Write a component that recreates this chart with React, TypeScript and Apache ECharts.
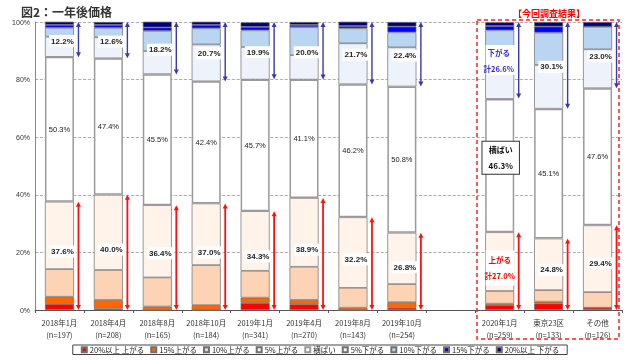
import React, { useEffect, useRef } from "react";
import * as echarts from "echarts";

const categories = ["2018年1月", "2018年4月", "2018年8月", "2018年10月", "2019年1月", "2019年4月", "2019年8月", "2019年10月", "", "2020年1月", "東京23区", "その他"];
const sampleSizes = ["197", "208", "165", "184", "341", "270", "143", "254", "", "259", "133", "126"];

const up20 = [2.1, 0.5, 0, 0, 2.5, 2.0, 0, 0.8, null, 1.7, 2.3, 0.8];
const up15 = [2.5, 3.0, 1.2, 1.7, 1.8, 1.5, 0.8, 1.9, null, 0.5, 0.6, 0];
const up10 = [9.6, 10.4, 10.1, 13.9, 9.3, 11.5, 6.9, 6.3, null, 4.4, 4.0, 5.4];
const up5 = [23.4, 26.1, 25.1, 21.4, 20.7, 23.9, 24.5, 17.8, null, 20.4, 17.9, 23.2];
const flat = [50.3, 47.4, 45.5, 42.4, 45.7, 41.1, 46.2, 50.8, null, 46.3, 45.1, 47.6];
const down5 = [7.0, 7.3, 8.0, 12.8, 11.3, 8.5, 14.2, 13.6, null, 18.3, 15.2, 13.5];
const down10 = [3.1, 3.3, 7.0, 5.6, 5.8, 9.7, 5.2, 5.2, null, 5.5, 11.2, 7.9];
const down15 = [1.0, 1.0, 1.2, 1.2, 1.2, 0.8, 0.8, 2.0, null, 1.5, 2.1, 0];
const down20 = [1.1, 1.0, 2.0, 1.1, 1.6, 1.0, 1.5, 1.6, null, 1.3, 1.6, 1.6];

const upTotals = [37.6, 40.0, 36.4, 37.0, 34.3, 38.9, 32.2, 26.8, null, 27.0, 24.8, 29.4];
const downTotals = [12.2, 12.6, 18.2, 20.7, 19.9, 20.0, 21.7, 22.4, null, 26.6, 30.1, 23.0];

const seriesNames = ["20%以上 上がる", "15%上がる", "10%上がる", "5%上がる", "横ばい", "5%下がる", "10%下がる", "15%下がる", "20%以上 下がる"];
const seriesValues = [up20, up15, up10, up5, flat, down5, down10, down15, down20];
const seriesColors = ["#ff0000", "#ff6600", "#fdd3b5", "#fff3ea", "#ffffff", "#eef3fb", "#b9d5f1", "#0000ff", "#000080"];

const HIGHLIGHT = 9;
const FONT = "'Liberation Sans', 'Noto Sans CJK JP', sans-serif";
const JFONT = "'Noto Sans CJK JP', 'Liberation Sans', sans-serif";

function arrowRender(color: string, lw: number) {
  return (params: any, api: any) => {
    const i = api.value(0);
    const a = api.coord([i, api.value(1)]);
    const b = api.coord([i, api.value(2)]);
    const x = a[0] + 19;
    const yTop = Math.min(a[1], b[1]);
    const yBot = Math.max(a[1], b[1]);
    const h = 5;
    const w = 2.5;
    return {
      type: "group",
      children: [
        { type: "line", shape: { x1: x, y1: yTop + h - 1, x2: x, y2: yBot - h + 1 }, style: { stroke: color, lineWidth: lw } },
        { type: "polygon", shape: { points: [[x, yTop], [x - w, yTop + h], [x + w, yTop + h]] }, style: { fill: color } },
        { type: "polygon", shape: { points: [[x, yBot], [x - w, yBot - h], [x + w, yBot - h]] }, style: { fill: color } },
      ],
    };
  };
}

function labelRender(dx: number, bold: boolean, boxed: boolean, size: number) {
  return (params: any, api: any) => {
    const i = api.value(0);
    const p = api.coord([i, api.value(1)]);
    return {
      type: "text",
      x: p[0] + dx,
      y: p[1],
      style: {
        text: api.value(2).toFixed(1) + "%",
        fill: "#222",
        fontSize: size,
        fontWeight: bold ? "bold" : "normal",
        fontFamily: FONT,
        align: "center",
        verticalAlign: "middle",
        backgroundColor: boxed ? "#ffffff" : "transparent",
        padding: boxed ? [2, 2] : 0,
      },
    };
  };
}

export default function App() {
  const ref = useRef<HTMLDivElement>(null);
  useEffect(() => {
    const chart = echarts.init(ref.current!, null, { renderer: "svg" });

    const barSeries = seriesNames.map((name, k) => ({
      name,
      type: "bar",
      stack: "total",
      barWidth: 29,
      data: seriesValues[k].map((v) => (v === null ? "-" : v)),
      itemStyle: {
        color: seriesColors[k],
        borderColor: k === 4 ? "#9a9a9a" : "#707070",
        borderWidth: k === 4 ? 1.5 : 0.7,
      },
      emphasis: { disabled: true },
    }));

    const upArrows: any[] = [];
    const downArrows: any[] = [];
    const upLabels: any[] = [];
    const downLabels: any[] = [];
    const flatLabels: any[] = [];
    upTotals.forEach((u, i) => {
      if (u === null) return;
      const d = downTotals[i] as number;
      upArrows.push([i, 0, u]);
      downArrows.push([i, 100 - d, 100]);
      if (i !== HIGHLIGHT) {
        upLabels.push([i, Math.min(u / 2 + 1.5, 21), u]);
        downLabels.push([i, 100 - d / 2 - 0.5, d]);
        flatLabels.push([i, u + (flat[i] as number) / 2, flat[i]]);
      }
    });

    const specialRender = (params: any, api: any) => {
      const i = HIGHLIGHT;
      const u = upTotals[i] as number;
      const d = downTotals[i] as number;
      const pUp = api.coord([i, 14.8]);
      const pDown = api.coord([i, 86.8]);
      const pFlat = api.coord([i, 52.9]);
      return {
        type: "group",
        children: [
          {
            type: "rect",
            shape: { x: pUp[0] - 14, y: pUp[1] - 17, width: 29, height: 35 },
            style: { fill: "#ffffff" },
          },
          {
            type: "text",
            x: pUp[0],
            y: pUp[1],
            style: {
              text: "上がる\n\n計" + u.toFixed(1) + "%",
              fill: "#ff0000",
              fontSize: 7.5,
              fontWeight: "bold",
              fontFamily: JFONT,
              align: "center",
              verticalAlign: "middle",
              lineHeight: 8,
            },
          },
          {
            type: "rect",
            shape: { x: pDown[0] - 14, y: pDown[1] - 15, width: 29, height: 30 },
            style: { fill: "#ffffff" },
          },
          {
            type: "text",
            x: pDown[0] - 1,
            y: pDown[1],
            style: {
              text: "下がる\n\n計" + d.toFixed(1) + "%",
              fill: "#3333cc",
              fontSize: 7.5,
              fontWeight: "bold",
              fontFamily: JFONT,
              align: "center",
              verticalAlign: "middle",
              lineHeight: 8,
            },
          },
          {
            type: "text",
            x: pFlat[0] + 1,
            y: pFlat[1],
            style: {
              text: "横ばい\n\n" + (flat[i] as number).toFixed(1) + "%",
              fill: "#111",
              fontSize: 8,
              fontWeight: "bold",
              fontFamily: JFONT,
              align: "center",
              verticalAlign: "middle",
              lineHeight: 8,
              backgroundColor: "#ffffff",
              borderColor: "#333",
              borderWidth: 1,
              padding: [4, 6, 4, 6],
            },
          },
        ],
      };
    };

    const option: any = {
      animation: false,
      title: {
        text: "図2：一年後価格",
        left: 16,
        top: 0,
        textStyle: { fontSize: 12, fontWeight: "bold", color: "#333", fontFamily: JFONT },
      },
      grid: { left: 35, right: 18, top: 22, bottom: 50 },
      legend: {
        data: seriesNames,
        left: "center",
        top: 345,
        icon: "rect",
        itemWidth: 5,
        itemHeight: 5,
        itemGap: 6,
        padding: [1, 8],
        borderColor: "#444",
        borderWidth: 1,
        borderRadius: 0,
        textStyle: { fontSize: 7.5, color: "#222", fontFamily: JFONT, padding: [0, 0, 0, -2] },
        selectedMode: false,
      },
      xAxis: {
        type: "category",
        data: categories,
        axisLine: { lineStyle: { color: "#555" } },
        axisTick: { show: true, length: 3, lineStyle: { color: "#555" } },
        axisLabel: {
          interval: 0,
          fontSize: 7.5,
          color: "#333",
          lineHeight: 12,
          fontFamily: JFONT,
          margin: 6,
          formatter: (v: string, idx: number) => (v ? v + "\n(n=" + sampleSizes[idx] + ")" : ""),
        },
      },
      yAxis: {
        type: "value",
        min: 0,
        max: 100,
        interval: 20,
        axisLine: { show: true, lineStyle: { color: "#888" } },
        axisTick: { show: false },
        axisLabel: { formatter: "{value}%", fontSize: 7, color: "#333", margin: 5, fontFamily: FONT },
        splitLine: { lineStyle: { type: "dashed", color: "#999", width: 0.8 } },
      },
      series: [
        ...barSeries,
        { type: "custom", renderItem: arrowRender("#ff1010", 1.8), data: upArrows, encode: { x: 0, y: [1, 2] }, z: 5, silent: true },
        { type: "custom", renderItem: arrowRender("#3a3aa8", 1.4), data: downArrows, encode: { x: 0, y: [1, 2] }, z: 5, silent: true },
        { type: "custom", renderItem: labelRender(3, true, true, 8), data: upLabels, encode: { x: 0, y: 1 }, z: 10, silent: true },
        { type: "custom", renderItem: labelRender(3, true, true, 8), data: downLabels, encode: { x: 0, y: 1 }, z: 10, silent: true },
        { type: "custom", renderItem: labelRender(0, false, false, 7.5), data: flatLabels, encode: { x: 0, y: 1 }, z: 10, silent: true },
        { type: "custom", renderItem: specialRender, data: [[HIGHLIGHT, 50]], encode: { x: 0, y: 1 }, z: 10, silent: true },
      ],
      graphic: [
        {
          type: "rect",
          shape: { x: 477, y: 20, width: 142, height: 319 },
          style: { fill: "none", stroke: "#ff2020", lineWidth: 1.5, lineDash: [4, 3] },
          z: 20,
        },
        {
          type: "text",
          x: 549,
          y: 13,
          style: {
            text: "【今回調査結果】",
            fill: "#ff0000",
            fontSize: 9,
            fontWeight: "bold",
            fontFamily: JFONT,
            align: "center",
            verticalAlign: "middle",
          },
          z: 20,
        },
      ],
    };
    chart.setOption(option);
    return () => chart.dispose();
  }, []);
  return <div ref={ref} style={{ position: "fixed", left: 0, top: 0, width: 640, height: 360 }} />;
}
